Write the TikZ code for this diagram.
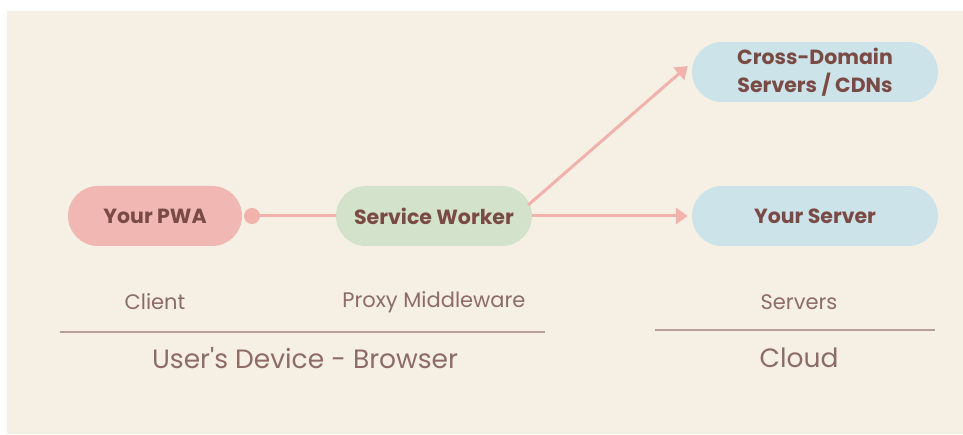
\documentclass[tikz,border=0pt]{standalone}
\usepackage{fontspec}
\setmainfont{Poppins}[Ligatures=TeXOff]
\usetikzlibrary{arrows.meta}
\definecolor{paper}{HTML}{F5EFE4}
\definecolor{pwafill}{HTML}{F0B7B3}
\definecolor{swfill}{HTML}{D2E2CB}
\definecolor{srvfill}{HTML}{CDE3EA}
\definecolor{boxtext}{HTML}{7A4A44}
\definecolor{labeltext}{HTML}{8E6C66}
\definecolor{flow}{HTML}{F0B2AB}
\definecolor{rule}{HTML}{B89E98}
\tikzset{
  pill/.style={rounded corners=30pt, minimum height=60pt, inner sep=0pt,
    text=boxtext, font=\fontsize{20.5}{28}\selectfont\bfseries, align=center},
  tierlabel/.style={text=labeltext, font=\fontsize{21}{24}\selectfont, inner sep=0pt},
  zonelabel/.style={text=labeltext, font=\fontsize{26.5}{30}\selectfont, inner sep=0pt},
  flowline/.style={draw=flow, line width=3pt},
  flowarrow/.style={flowline, -{Triangle[length=12pt,width=16pt]}},
  divider/.style={draw=rule, line width=1.2pt},
}
\begin{document}
\begin{tikzpicture}[x=1pt,y=1pt]
  \useasboundingbox (0,0) rectangle (963,434);
  \fill[paper] (7,0) rectangle (963,423);

  % components
  \node[pill, fill=pwafill, minimum width=174pt] (pwa) at (155,218) {Your PWA};
  \node[pill, fill=swfill, minimum width=196pt] (sw) at (434,218) {Service Worker};
  \node[pill, fill=srvfill, minimum width=246pt] (srv) at (815,218) {Your Server};
  \node[pill, fill=srvfill, minimum width=246pt] (cdn) at (815,362) {Cross-Domain\\Servers / CDNs};

  % connectors
  \coordinate (dot) at (252,218);
  \fill[flow] (dot) circle (8pt);
  \draw[flowline] (dot) -- (sw.west);
  \draw[flowarrow] (sw.east) -- ([xshift=-4pt]srv.west);
  \draw[flowarrow] ([xshift=-4pt,yshift=11pt]sw.east) -- ([xshift=-4pt,yshift=6pt]cdn.west);

  % tier labels
  \node[tierlabel] (client) at (155,132) {Client};
  \node[tierlabel] (proxy) at (434,132) {Proxy Middleware};
  \node[tierlabel] (servers) at (799,132) {Servers};

  % dividers
  \coordinate (d1a) at (60,102);
  \coordinate (d1b) at (545,102);
  \coordinate (d2a) at (655,104);
  \coordinate (d2b) at (935,104);
  \draw[divider] (d1a) -- (d1b);
  \draw[divider] (d2a) -- (d2b);

  % zone labels
  \node[zonelabel] (device) at (305,76) {User's Device - Browser};
  \node[zonelabel] (cloud) at (799,76) {Cloud};
\end{tikzpicture}
\end{document}
